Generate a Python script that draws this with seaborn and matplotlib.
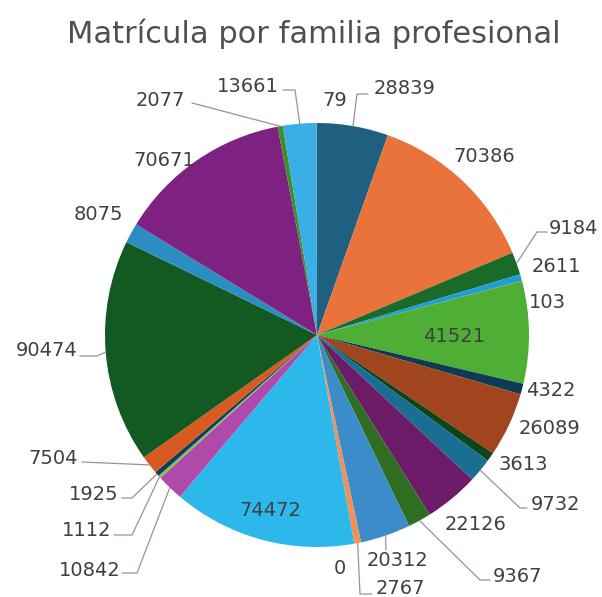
import numpy as np
import matplotlib
matplotlib.use('Agg')
import matplotlib.pyplot as plt
import seaborn as sns

# ---- data (clockwise from 12 o'clock) ----
values = [28839, 70386, 9184, 2611, 103, 41521, 4322, 26089, 3613, 9732,
          22126, 9367, 20312, 2767, 0, 74472, 10842, 1112, 1925, 7504,
          90474, 8075, 70671, 2077, 13661, 79]
labels = [str(v) for v in values]
title = 'Matrícula por familia profesional'

# Office-style palette, cycled with darker / lighter variants
colors = ['#1f5f80', '#e9733a', '#1a6b2a', '#1c9fd8', '#a02b93', '#4fae35',
          '#0e3a52', '#a0451e', '#0f4418', '#1a6e94', '#6c1b68', '#2f6e22',
          '#3b8cc8', '#f0915a', '#3c9a4a', '#2db8ec', '#b04aaa', '#7cc45a',
          '#123c5c', '#d95a20', '#125a22', '#2a8ec2', '#7e2180', '#3d8f2a',
          '#3aaee6', '#f0915a']

# ---- label layout (pixel positions in the 602x597 image) ----
label_pos = {
    0: (405, 88), 1: (484, 156), 2: (574, 228), 3: (556, 267), 4: (547, 303),
    5: (454, 337), 6: (551, 391), 7: (550, 428), 8: (523, 465), 9: (556, 505),
    10: (476, 524), 11: (518, 577), 12: (397, 561), 13: (400, 588), 14: (340, 568),
    15: (270, 510), 16: (90, 570), 17: (87, 530), 18: (94, 494), 19: (53, 459),
    20: (47, 350), 21: (98, 214), 22: (164, 161), 23: (160, 100), 24: (248, 87),
    25: (335, 100),
}
# leader line elbows (pixels), starting at the wedge's outer edge
leaders = {
    0: [(357, 94), (368, 94)],
    2: [(537, 232), (547, 232)],
    9: [(520, 508), (527, 508)],
    11: [(480, 580), (490, 580)],
    12: [(386, 550)],
    13: [(360, 594), (372, 594)],
    16: [(137, 573), (122, 573)],
    17: [(132, 535), (114, 535)],
    18: [(132, 498), (122, 498)],
    19: [(82, 462)],
    20: [(97, 356), (80, 356)],
    23: [(192, 103)],
    24: [(295, 90), (283, 90)],
}

CX, CY, R = 317, 335, 212
W, H = 602, 597


def to_data(p):
    return ((p[0] - CX) / R, (CY - p[1]) / R)


sns.set_theme(style='white')
plt.rcParams['font.family'] = ['DejaVu Sans']

fig = plt.figure(figsize=(W / 100, H / 100), dpi=100)
fig.patch.set_facecolor('white')
ax = fig.add_axes([(CX - R) / W, (H - CY - R) / H, 2 * R / W, 2 * R / H])

wedges, _ = ax.pie(values, colors=colors, startangle=90, counterclock=False,
                   radius=1.0, center=(0, 0),
                   wedgeprops=dict(linewidth=0, antialiased=True))
ax.set_xlim(-1, 1)
ax.set_ylim(-1, 1)
ax.set_aspect('equal')
ax.axis('off')

txt_color = '#404040'
for i, w in enumerate(wedges):
    mid = np.deg2rad((w.theta1 + w.theta2) / 2)
    if i in leaders:
        pts = [(np.cos(mid), np.sin(mid))] + [to_data(p) for p in leaders[i]]
        xs, ys = zip(*pts)
        ax.plot(xs, ys, color='#a09090', lw=0.9, clip_on=False)
    x, y = to_data(label_pos[i])
    ax.text(x, y, labels[i], ha='center', va='center', fontsize=14,
            color=txt_color, clip_on=False)

fig.text(314 / W, 1 - 34 / H, title, ha='center', va='center',
         fontsize=22, color='#505050')

fig.savefig('out.png', dpi=100, facecolor='white')
